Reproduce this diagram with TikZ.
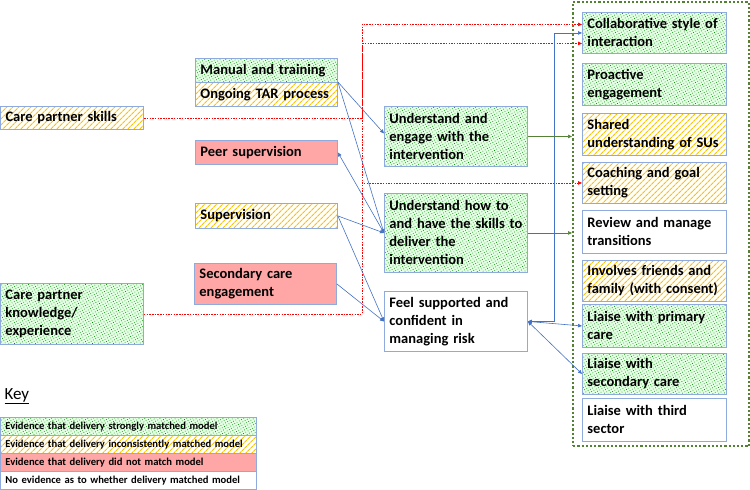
\documentclass[tikz,border=0pt]{standalone}
\usepackage{fontspec}
\setmainfont{Carlito}
\usepackage{xcolor}
\usepackage{tikz}
\usetikzlibrary{arrows.meta,patterns.meta}

\definecolor{boxblue}{RGB}{143,170,220}
\definecolor{lineblue}{RGB}{68,114,196}
\definecolor{darkgreen}{RGB}{84,130,53}
\definecolor{gold}{RGB}{255,192,0}

\begin{document}
\begin{tikzpicture}[x=1pt,y=-1pt, >={Triangle[length=4pt,width=3.5pt]},
  box/.style={draw=boxblue, line width=0.9pt, anchor=north west, align=left,
    inner xsep=5pt, inner ysep=2pt, font=\bfseries\fontsize{14.5}{18}\selectfont},
  cola/.style={box, text width=133pt},
  colb/.style={box, text width=132pt},
  colc/.style={box, text width=133pt},
  cold/.style={box, text width=134pt},
  strong/.style={preaction={fill=green!10}, pattern={Dots[radius=0.5pt,distance=2.6pt,angle=30]}, pattern color=green!55!black},
  partial/.style={preaction={fill=white}, pattern={Lines[angle=45,distance=4pt,line width=1.1pt]}, pattern color=gold},
  nomatch/.style={preaction={fill=red!22}, pattern={Dots[radius=0.55pt,distance=2pt]}, pattern color=red!75},
  keyrow/.style={draw=boxblue, line width=0.9pt, anchor=north west, align=left, inner xsep=5pt,
    text width=246pt, minimum height=18pt, font=\bfseries\fontsize{10.6}{12}\selectfont},
  bline/.style={lineblue, line width=0.6pt},
  gline/.style={darkgreen, line width=0.6pt, ->},
  rline/.style={red, line width=0.7pt, dash pattern=on 1.5pt off 1.2pt, ->}
]
  \useasboundingbox (0,0) rectangle (750,490);

  \node[draw=darkgreen, line width=2.2pt, dash pattern=on 2.2pt off 2pt, inner sep=0pt,
    anchor=north west, minimum width=176pt, minimum height=444pt] (frame) at (572,1) {};

  \node[cola, partial, minimum height=23pt] (skills) at (0,106) {Care partner skills};
  \node[cola, strong, minimum height=61pt] (know) at (0,283) {Care partner\\knowledge/\\experience};

  \node[colb, strong, minimum height=24pt] (manual) at (195,58) {Manual and training};
  \node[colb, partial, minimum height=24pt] (tar) at (195,82) {Ongoing TAR process};
  \node[colb, nomatch, minimum height=24pt] (peer) at (195,140) {Peer supervision};
  \node[colb, partial, minimum height=25pt] (superv) at (195,203) {Supervision};
  \node[colb, nomatch, minimum height=41pt] (seccare) at (194,263) {Secondary care\\engagement};

  \node[colc, strong, minimum height=60pt] (engage) at (384,106) {Understand and\\engage with the\\intervention};
  \node[colc, strong, minimum height=79pt] (deliver) at (384,193) {Understand how to\\and have the skills to\\deliver the\\intervention};
  \node[colc, fill=white, minimum height=60pt] (risk) at (384,291) {Feel supported and\\confident in\\managing risk};

  \node[cold, strong, minimum height=41pt] (collab) at (582,12) {Collaborative style of\\interaction};
  \node[cold, strong, minimum height=42pt] (proact) at (582,63) {Proactive\\engagement};
  \node[cold, partial, minimum height=42pt] (shared) at (582,113) {Shared\\understanding of SUs};
  \node[cold, partial, minimum height=41pt] (coach) at (582,162) {Coaching and goal\\setting};
  \node[cold, fill=white, minimum height=43pt] (review) at (582,210) {Review and manage\\transitions};
  \node[cold, partial, minimum height=41pt] (friends) at (582,260) {Involves friends and\\family (with consent)};
  \node[cold, strong, minimum height=43pt] (primary) at (582,304) {Liaise with primary\\care};
  \node[cold, strong, minimum height=41pt] (secondary) at (582,353) {Liaise with\\secondary care};
  \node[cold, fill=white, minimum height=43pt] (third) at (582,398) {Liaise with third\\sector};

  \coordinate (redx) at (362,0);
  \coordinate (bluex) at (554,0);
  \draw[rline] (know.east) -- (know.east -| redx) |- ([yshift=-10.5pt]collab.west);
  \draw[rline] (know.east) -- (know.east -| redx) |- (coach.west);
  \draw[rline] (skills.east) -- (skills.east -| redx) |- ([yshift=8.5pt]collab.west);

  \draw[bline, ->] (tar.north east) -- ([yshift=3pt]engage.west);
  \draw[bline, ->] (tar.north east) -- (deliver.west);
  \draw[bline, ->] (deliver.west) -- (peer.east);
  \draw[bline, ->] (superv.east) -- (deliver.west);
  \draw[bline, ->] (superv.east) -- (risk.west);
  \draw[bline, ->] (seccare.east) -- (risk.west);
  \draw[bline, <->] (risk.east) -- (risk.east -| bluex) |- (collab.west);
  \draw[bline, <->] (risk.east) -- (primary.west);
  \draw[bline, <->] (risk.east) -- (secondary.west);

  \draw[gline] (engage.east) -- (engage.east -| frame.west);
  \draw[gline] (deliver.east) -- (deliver.east -| frame.west);

  \node[anchor=west, font=\fontsize{17}{20}\selectfont] (keytitle) at (1,396) {\underline{Key}};
  \node[keyrow, strong] (key1) at (0,417) {Evidence that delivery strongly matched model};
  \node[keyrow, partial] (key2) at (0,435) {Evidence that delivery inconsistently matched model};
  \node[keyrow, nomatch] (key3) at (0,453) {Evidence that delivery did not match model};
  \node[keyrow, fill=white] (key4) at (0,471) {No evidence as to whether delivery matched model};
\end{tikzpicture}
\end{document}
